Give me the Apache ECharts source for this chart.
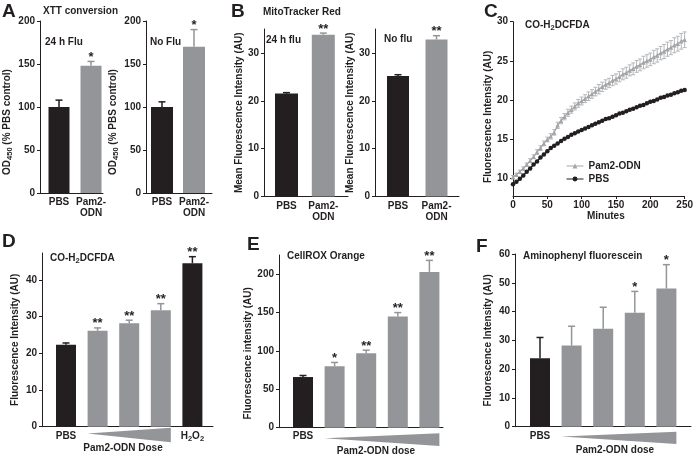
<!DOCTYPE html>
<html><head><meta charset="utf-8">
<script src="https://cdn.jsdelivr.net/npm/echarts@6/dist/echarts.min.js"></script>
<style>html,body{margin:0;padding:0;background:#fff}#c{width:696px;height:459px}</style>
</head><body><div id="c"></div>
<script>
const FONT = '"Liberation Sans", Arial, Helvetica, sans-serif';
const BLACK = '#231f20', GRAY = '#939598', LGRAY = '#a3a5a8';

// ---------- Panel A : XTT conversion ----------
const aCategories = ['PBS', 'Pam2-\nODN'];
const a1Values = [100, 148];
const a1Errors = [8, 5];
const a1Stars = ['', '*'];
const a2Values = [100, 170];
const a2Errors = [6, 20];
const a2Stars = ['', '*'];
const aTicks = [0, 50, 100, 150, 200];

// ---------- Panel B : MitoTracker Red ----------
const bCategories = ['PBS', 'Pam2-\nODN'];
const b1Values = [21.5, 33.8];
const b1Errors = [0.2, 0.35];
const b1Stars = ['', '**'];
const b2Values = [25.2, 32.8];
const b2Errors = [0.25, 0.8];
const b2Stars = ['', '**'];
const bTicks = [0, 10, 20, 30];

// ---------- Panel C : CO-H2DCFDA kinetics ----------
const cMinutes = [0,5,10,15,20,25,30,35,40,45,50,55,60,65,70,75,80,85,90,95,100,105,110,115,120,125,130,135,140,145,150,155,160,165,170,175,180,185,190,195,200,205,210,215,220,225,230,235,240,245,250];
const cPam2 = [10.2,10.5,10.9,11.3,11.8,12.3,12.8,13.4,13.9,14.5,
  15.0,15.4,15.9,16.8,17.4,17.9,18.4,18.8,19.2,19.6,
  19.9,20.2,20.5,20.8,21.1,21.4,21.7,22.0,22.2,22.5,
  22.7,23.0,23.3,23.5,23.8,24.0,24.3,24.5,24.8,25.0,
  25.2,25.5,25.7,26.0,26.2,26.5,26.7,27.0,27.2,27.5,27.7];
const cPam2Err = [0.2,0.2,0.2,0.2,0.2,0.25,0.25,0.3,0.3,0.3,
  0.3,0.35,0.35,0.4,0.4,0.4,0.45,0.45,0.45,0.5,
  0.5,0.5,0.55,0.55,0.55,0.6,0.6,0.6,0.6,0.65,
  0.65,0.65,0.7,0.7,0.7,0.75,0.75,0.75,0.8,0.8,
  0.8,0.85,0.85,0.85,0.9,0.9,0.9,0.95,0.95,1.0,1.0];
const cPBS = [9.3,9.6,10.0,10.4,10.9,11.3,11.8,12.2,12.7,13.1,
  13.5,13.9,14.2,14.5,14.8,15.1,15.3,15.6,15.8,16.0,
  16.2,16.4,16.6,16.8,17.0,17.2,17.4,17.6,17.7,17.9,
  18.1,18.3,18.4,18.6,18.8,18.9,19.1,19.3,19.4,19.6,
  19.8,19.9,20.1,20.3,20.4,20.6,20.7,20.9,21.0,21.2,21.3];
const cXTicks = [0, 50, 100, 150, 200, 250];
const cYTicks = [10, 15, 20, 25, 30];

// ---------- Panel D : CO-H2DCFDA dose ----------
const dCategories = ['PBS', '', '', '', '{a|H}{s|2}{a|O}{s|2}'];
const dValues = [22.3, 26.1, 28.2, 31.7, 44.5];
const dErrors = [0.5, 0.8, 0.8, 1.8, 1.8];
const dStars = ['', '**', '**', '**', '**'];
const dTicks = [0, 10, 20, 30, 40];

// ---------- Panel E : CellROX Orange ----------
const eCategories = ['PBS', '', '', '', ''];
const eValues = [66, 80, 97, 145, 203];
const eErrors = [2, 5, 4, 5, 15];
const eStars = ['', '*', '**', '**', '**'];
const eTicks = [0, 50, 100, 150, 200];

// ---------- Panel F : Aminophenyl fluorescein ----------
const fCategories = ['PBS', '', '', '', ''];
const fValues = [23.8, 28.2, 34.0, 39.6, 48.0];
const fErrors = [7.2, 6.7, 7.5, 7.4, 8.3];
const fStars = ['', '', '', '*', '*'];
const fTicks = [0, 10, 20, 30, 40, 50, 60];

// ---------------------------------------------------------------
const chart = echarts.init(document.getElementById('c'), null, {renderer: 'canvas', width: 696, height: 459});
const grids = [], xAxes = [], yAxes = [], series = [], titles = [];

const RICH = {
  a: {fontFamily: FONT, fontWeight: 'bold', fontSize: 10, lineHeight: 15, color: BLACK},
  s: {fontFamily: FONT, fontWeight: 'bold', fontSize: 7.5, lineHeight: 7, verticalAlign: 'bottom', color: BLACK}
};
const tickFont = {fontFamily: FONT, fontWeight: 'bold', fontSize: 10, color: BLACK};

function errRender(colors, stars, capHalf) {
  return function (params, api) {
    const x = api.value(0), v = api.value(1), e = api.value(2);
    const b = api.coord([x, v]), t = api.coord([x, v + e]);
    const c = colors[params.dataIndex];
    const ch = [
      {type: 'line', shape: {x1: b[0], y1: b[1], x2: t[0], y2: t[1]}, style: {stroke: c, lineWidth: 1.5}},
      {type: 'line', shape: {x1: t[0] - capHalf, y1: t[1], x2: t[0] + capHalf, y2: t[1]}, style: {stroke: c, lineWidth: 1.5}}
    ];
    const s = stars[params.dataIndex];
    if (s) ch.push({type: 'text', x: t[0], y: t[1] - 4,
      style: {text: s, fill: BLACK, font: 'bold 13px ' + FONT, align: 'center', verticalAlign: 'middle'}});
    return {type: 'group', children: ch};
  };
}

function addBarPanel(p) {
  const i = grids.length;
  grids.push({left: p.axisX, top: p.topY, width: p.endX - p.axisX, height: p.zeroY - p.topY, containLabel: false});
  const min = 1 - (p.center1 - p.axisX) / p.unit;
  const max = min + (p.endX - p.axisX) / p.unit;
  const idx = p.categories.map((_, k) => k + 1);
  xAxes.push({
    type: 'value', gridIndex: i, min: min, max: max,
    splitLine: {show: false},
    axisLine: {show: true, onZero: false, lineStyle: {color: BLACK, width: 1}},
    axisTick: {show: false},
    axisLabel: Object.assign({}, tickFont, {
      customValues: idx, margin: p.labelMargin, lineHeight: 11,
      formatter: v => p.categories[Math.round(v) - 1] || '',
      rich: {a: {fontFamily: FONT, fontWeight: 'bold', fontSize: 10, color: BLACK, lineHeight: 12},
             s: {fontFamily: FONT, fontWeight: 'bold', fontSize: 7.5, color: BLACK, lineHeight: 6, verticalAlign: 'bottom'}}
    }),
    name: p.xName || '', nameLocation: 'middle', nameGap: p.xNameGap || 0,
    nameTextStyle: Object.assign({}, tickFont, {padding: p.xNamePad || 0})
  });
  yAxes.push({
    type: 'value', gridIndex: i, min: 0, max: p.yMax,
    splitLine: {show: false},
    axisLine: {show: true, onZero: false, lineStyle: {color: BLACK, width: 1}},
    axisTick: {show: true, length: 3, customValues: p.yTicks, lineStyle: {color: BLACK}},
    axisLabel: Object.assign({}, tickFont, {customValues: p.yTicks, margin: 5}),
    name: p.yName, nameLocation: 'middle', nameGap: p.yNameGap, nameRotate: 90,
    nameTextStyle: {rich: RICH, padding: p.yNamePad || 0}
  });
  series.push({
    type: 'bar', xAxisIndex: i, yAxisIndex: i, barWidth: p.barWidth, silent: true,
    data: p.values.map((v, k) => ({value: [k + 1, v], itemStyle: {color: p.colors[k]}}))
  });
  series.push({
    type: 'custom', xAxisIndex: i, yAxisIndex: i, z: 4, silent: true, clip: false,
    data: p.values.map((v, k) => [k + 1, v, p.errors[k]]),
    renderItem: errRender(p.colors, p.stars, 3.5)
  });
  if (p.wedge) {
    const w = p.wedge;
    series.push({
      type: 'custom', xAxisIndex: i, yAxisIndex: i, z: 4, silent: true, clip: false,
      data: [[w.from, w.to]],
      renderItem: function (params, api) {
        const a = api.coord([api.value(0), 0]), b = api.coord([api.value(1), 0]);
        const L = a[0] - p.barWidth / 2, R = b[0] + p.barWidth / 2, y = a[1] + w.top;
        return {type: 'polygon', shape: {points: [[L, y + w.h * 0.4], [R, y], [R, y + w.h]]}, style: {fill: GRAY}};
      }
    });
  }
}

const yNameOD = '{a|OD}{s|450}{a| (% PBS control)}';
const yNameMean = '{a|Mean Fluorescence Intensity (AU)}';
const yNameFl = '{a|Fluorescence Intensity (AU)}';
const yNameFlLower = '{a|Fluorescence intensity (AU)}';

addBarPanel({axisX: 40, endX: 103, topY: 21, zeroY: 193, center1: 59, unit: 32, barWidth: 21,
  yMax: 200, yTicks: aTicks, categories: aCategories, values: a1Values, errors: a1Errors, stars: a1Stars,
  colors: [BLACK, GRAY], labelMargin: 4, yName: yNameOD, yNameGap: 20, yNamePad: [0, 30, 0, 0]});
addBarPanel({axisX: 146, endX: 212, topY: 21, zeroY: 193, center1: 162, unit: 32, barWidth: 22,
  yMax: 200, yTicks: aTicks, categories: aCategories, values: a2Values, errors: a2Errors, stars: a2Stars,
  colors: [BLACK, GRAY], labelMargin: 4, yName: yNameOD, yNameGap: 19, yNamePad: [0, 30, 0, 0]});
addBarPanel({axisX: 264, endX: 348, topY: 29, zeroY: 196.5, center1: 286.5, unit: 36.8, barWidth: 23,
  yMax: 35, yTicks: bTicks, categories: bCategories, values: b1Values, errors: b1Errors, stars: b1Stars,
  colors: [BLACK, GRAY], labelMargin: 4, yName: yNameMean, yNameGap: 15});
addBarPanel({axisX: 375, endX: 459, topY: 29, zeroY: 196.5, center1: 398, unit: 38.5, barWidth: 22,
  yMax: 35, yTicks: bTicks, categories: bCategories, values: b2Values, errors: b2Errors, stars: b2Stars,
  colors: [BLACK, GRAY], labelMargin: 4, yName: yNameMean, yNameGap: 14});
addBarPanel({axisX: 42, endX: 213, topY: 253, zeroY: 426.7, center1: 66, unit: 31.6, barWidth: 20,
  yMax: 47.3, yTicks: dTicks, categories: dCategories, values: dValues, errors: dErrors, stars: dStars,
  colors: [BLACK, GRAY, GRAY, GRAY, BLACK], labelMargin: 4, yName: yNameFl, yNameGap: 19,
  xName: 'Pam2-ODN Dose', xNameGap: 17, xNamePad: [0, 9, 0, 0],
  wedge: {from: 2, to: 4, top: 1, h: 14.5}});
addBarPanel({axisX: 279, endX: 443, topY: 255, zeroY: 427.7, center1: 303, unit: 31.6, barWidth: 20,
  yMax: 225, yTicks: eTicks, categories: eCategories, values: eValues, errors: eErrors, stars: eStars,
  colors: [BLACK, GRAY, GRAY, GRAY, GRAY], labelMargin: 3.5, yName: yNameFlLower, yNameGap: 19, yNamePad: [0, 24, 0, 0],
  xName: 'Pam2-ODN dose', xNameGap: 19, xNamePad: [0, 0, 0, 30],
  wedge: {from: 2, to: 5, top: 5.5, h: 12.7}});
addBarPanel({axisX: 515, endX: 691, topY: 254, zeroY: 426.7, center1: 540, unit: 31.6, barWidth: 20,
  yMax: 60, yTicks: fTicks, categories: fCategories, values: fValues, errors: fErrors, stars: fStars,
  colors: [BLACK, GRAY, GRAY, GRAY, GRAY], labelMargin: 4.5, yName: yNameFl, yNameGap: 19.5,
  xName: 'Pam2-ODN dose', xNameGap: 19, xNamePad: [0, 0, 0, 24],
  wedge: {from: 2, to: 5, top: 5, h: 12.3}});

// Panel C line chart
(function () {
  const i = grids.length;
  grids.push({left: 513, top: 21.7, width: 174, height: 174.3, containLabel: false});
  xAxes.push({
    type: 'value', gridIndex: i, min: 0, max: 250,
    splitLine: {show: false},
    axisLine: {show: true, onZero: false, lineStyle: {color: BLACK, width: 1}},
    axisTick: {show: true, length: 3, customValues: cXTicks, lineStyle: {color: BLACK}},
    axisLabel: Object.assign({}, tickFont, {customValues: cXTicks, margin: 4}),
    name: 'Minutes', nameLocation: 'middle', nameGap: 12,
    nameTextStyle: Object.assign({}, tickFont, {padding: [0, 0, 0, 14]})
  });
  yAxes.push({
    type: 'value', gridIndex: i, min: 7.8, max: 30,
    splitLine: {show: false},
    axisLine: {show: true, onZero: false, lineStyle: {color: BLACK, width: 1}},
    axisTick: {show: true, length: 3, customValues: cYTicks, lineStyle: {color: BLACK}},
    axisLabel: Object.assign({}, tickFont, {customValues: cYTicks, margin: 5}),
    name: yNameFl, nameLocation: 'middle', nameGap: 15, nameRotate: 90,
    nameTextStyle: {rich: RICH, padding: [0, 16, 0, 0]}
  });
  series.push({
    type: 'custom', name: 'errC', xAxisIndex: i, yAxisIndex: i, z: 2, silent: true, clip: false,
    data: cMinutes.map((m, k) => [m, cPam2[k], cPam2Err[k]]),
    renderItem: function (params, api) {
      const x = api.value(0), v = api.value(1), e = api.value(2);
      const lo = api.coord([x, v - e]), hi = api.coord([x, v + e]);
      const st = {stroke: '#b4b6b9', lineWidth: 1};
      return {type: 'group', children: [
        {type: 'line', shape: {x1: lo[0], y1: lo[1], x2: hi[0], y2: hi[1]}, style: st},
        {type: 'line', shape: {x1: hi[0] - 2, y1: hi[1], x2: hi[0] + 2, y2: hi[1]}, style: st},
        {type: 'line', shape: {x1: lo[0] - 2, y1: lo[1], x2: lo[0] + 2, y2: lo[1]}, style: st}
      ]};
    }
  });
  series.push({
    type: 'line', name: 'Pam2-ODN', xAxisIndex: i, yAxisIndex: i, z: 3,
    data: cMinutes.map((m, k) => [m, cPam2[k]]),
    symbol: 'triangle', symbolSize: 4.5, showAllSymbol: true,
    itemStyle: {color: LGRAY}, lineStyle: {color: LGRAY, width: 1.2}
  });
  series.push({
    type: 'line', name: 'PBS', xAxisIndex: i, yAxisIndex: i, z: 3,
    data: cMinutes.map((m, k) => [m, cPBS[k]]),
    symbol: 'circle', symbolSize: 4.5, showAllSymbol: true,
    itemStyle: {color: BLACK}, lineStyle: {color: BLACK, width: 1.5}
  });
})();

function txt(text, left, top, size, extra) {
  titles.push(Object.assign({text: text, left: left, top: top, padding: 0,
    textStyle: {fontFamily: FONT, fontWeight: 'bold', fontSize: size, color: BLACK,
      rich: {a: {fontFamily: FONT, fontWeight: 'bold', fontSize: size, color: BLACK, lineHeight: 13},
             s: {fontFamily: FONT, fontWeight: 'bold', fontSize: 7.5, color: BLACK, lineHeight: 6, verticalAlign: 'bottom'}}}}, extra || {}));
}
// panel letters
txt('A', 2, 2, 19); txt('B', 231, 2, 19); txt('C', 484, 2, 19);
txt('D', 2, 232, 19); txt('E', 247, 235, 19); txt('F', 476, 237, 19);
// panel titles and annotations
txt('XTT conversion', 43, 6, 10);
txt('24 h Flu', 45, 37.5, 10);
txt('No Flu', 150, 37.5, 10);
txt('MitoTracker Red', 263, 7, 10);
txt('24 h flu', 266, 35, 10);
txt('No flu', 384, 34, 10);
txt('{a|CO-H}{s|2}{a|DCFDA}', 525, 19, 10);
txt('{a|CO-H}{s|2}{a|DCFDA}', 50, 252, 10);
txt('CellROX Orange', 287, 251.5, 10);
txt('Aminophenyl fluorescein', 523, 251, 10);

chart.setOption({
  animation: false,
  backgroundColor: '#ffffff',
  title: titles,
  grid: grids,
  xAxis: xAxes,
  yAxis: yAxes,
  legend: {
    data: ['Pam2-ODN', 'PBS'], orient: 'vertical', left: 566, top: 161,
    itemWidth: 17, itemHeight: 6, itemGap: 3, padding: 0,
    lineStyle: {width: 1},
    textStyle: {fontFamily: FONT, fontWeight: 'bold', fontSize: 10, color: BLACK}
  },
  series: series
});
</script>
</body></html>
